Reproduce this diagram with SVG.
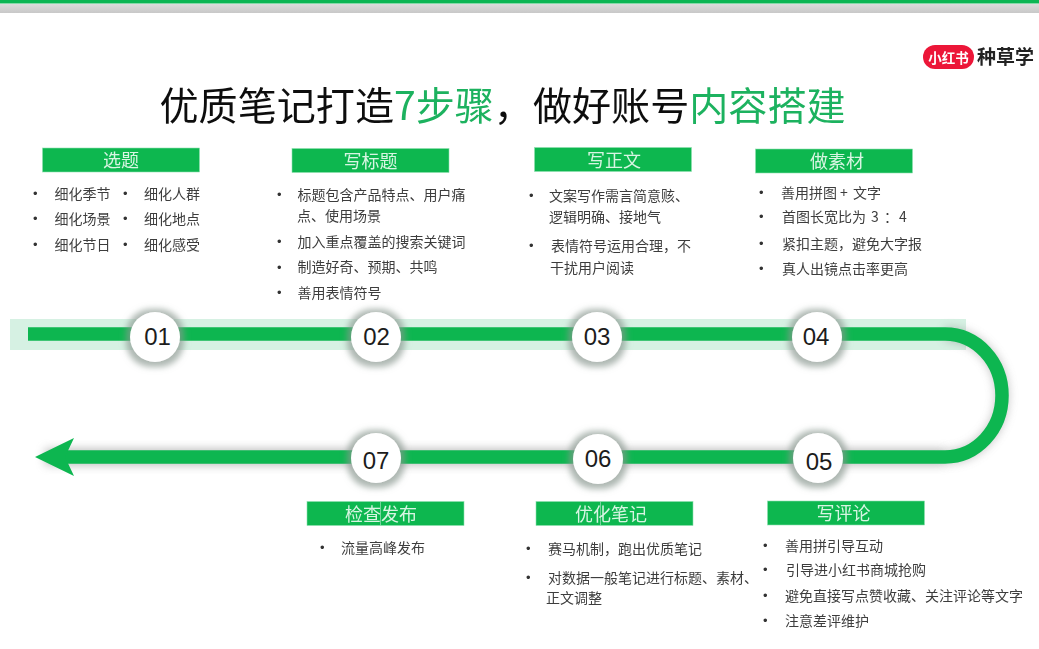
<svg xmlns="http://www.w3.org/2000/svg" width="1039" height="649" viewBox="0 0 1039 649">
<style>
text{font-family:"Liberation Sans","Noto Sans CJK SC",sans-serif}
.cjk{font-family:"Noto Sans CJK SC",sans-serif}
.h{fill:#d8f5e2;font-size:18px;text-anchor:middle;font-family:"Noto Sans CJK SC",sans-serif}
.t{fill:#3d3d3d;font-size:14px;font-family:"Noto Sans CJK SC",sans-serif}
.b{fill:#333;font-size:13px;font-family:"Liberation Sans",sans-serif}
.box{fill:#0cb750;stroke:#8fe0b0;stroke-width:.6}
.n{fill:#1c1c1c;font-size:24px;text-anchor:middle}
.c{fill:#fff}
.track{fill:none;stroke:#0db650;stroke-width:13.5}
.soft{filter:url(#soft)}
.seam{fill:#9fe3bb}
</style>
<defs>
<linearGradient id="top" x1="0" y1="0" x2="0" y2="1"><stop offset="0" stop-color="#dcdcdc"/><stop offset="1" stop-color="#c8c8c8"/></linearGradient>
<filter id="soft" x="-5%" y="-5%" width="110%" height="110%"><feGaussianBlur stdDeviation="0.45"/></filter>
<filter id="halo" x="-50%" y="-50%" width="200%" height="200%">
<feMorphology in="SourceAlpha" operator="dilate" radius="3.500" result="d"/>
<feGaussianBlur in="d" stdDeviation="3" result="b"/>
<feOffset in="b" dy="1" result="o"/>
<feFlood flood-color="#8a9890" flood-opacity=".7"/>
<feComposite in2="o" operator="in" result="s"/>
<feMerge><feMergeNode in="s"/><feMergeNode in="SourceGraphic"/></feMerge>
</filter>
<filter id="lineShadow" filterUnits="userSpaceOnUse" x="0" y="290" width="1039" height="210"><feGaussianBlur stdDeviation="5"/></filter>
</defs>
<rect width="1039" height="649" fill="#fff"/>
<rect y="0" width="1039" height="3.5" fill="#0cb654"/>
<rect y="4" width="1039" height="9" fill="url(#top)"/>

<g id="title" class="soft">
<text x="159.500" y="120" font-size="39.1" fill="#111" class="cjk">优质笔记打造<tspan fill="#1fb25f">7步骤</tspan>，做好账号<tspan fill="#1fb25f">内容搭建</tspan></text>
</g>
<g id="logo" class="soft">
<rect x="923" y="45" width="51" height="24" rx="12" fill="#ec1639"/>
<text x="948.500" y="62.500" font-size="13.500" font-weight="700" fill="#fff" text-anchor="middle" class="cjk">小红书</text>
<text x="977" y="64" font-size="19" font-weight="700" fill="#222" class="cjk">种草学</text>
</g>

<g id="connectors">
<rect x="10" y="319" width="956" height="31" fill="#d6f1e3"/>
<path d="M45 457H945" stroke="#777" stroke-width="16" opacity=".5" filter="url(#lineShadow)" fill="none"/>
<path d="M945 334A57 61.500 0 0 1 945 457" fill="none" stroke="#777" stroke-width="14" opacity=".4" filter="url(#lineShadow)"/>
<path class="track" d="M28 334H945"/>
<path class="track" d="M945 334A57 61.500 0 0 1 945 457"/>
<path class="track" d="M945 457H60"/>
<polygon points="35,457 74,438 65,457 74,476" fill="#0db650"/>
</g>

<g id="n01"><circle class="c" cx="155" cy="337" r="25" filter="url(#halo)"/><text class="n" x="157.500" y="345">01</text></g>
<g id="n02"><circle class="c" cx="376" cy="337" r="25" filter="url(#halo)"/><text class="n" x="376.500" y="345">02</text></g>
<g id="n03"><circle class="c" cx="597" cy="337" r="25" filter="url(#halo)"/><text class="n" x="597" y="345">03</text></g>
<g id="n04"><circle class="c" cx="817" cy="337" r="25" filter="url(#halo)"/><text class="n" x="816" y="345">04</text></g>
<g id="n05"><circle class="c" cx="818" cy="458" r="25" filter="url(#halo)"/><text class="n" x="819" y="470">05</text></g>
<g id="n06"><circle class="c" cx="598" cy="459" r="25" filter="url(#halo)"/><text class="n" x="598" y="467">06</text></g>
<g id="n07"><circle class="c" cx="376" cy="458" r="25" filter="url(#halo)"/><text class="n" x="376" y="469">07</text></g>

<g id="step1" class="soft">
<rect class="box" x="42.500" y="148" width="157" height="24"/><text class="h" x="121" y="167">选题</text>
<text class="b" x="33" y="198">•</text><text class="t" x="54.500" y="199">细化季节</text>
<text class="b" x="123" y="198">•</text><text class="t" x="144" y="199">细化人群</text>
<text class="b" x="33" y="223">•</text><text class="t" x="54.500" y="224">细化场景</text>
<text class="b" x="123" y="223">•</text><text class="t" x="144" y="224">细化地点</text>
<text class="b" x="33" y="249">•</text><text class="t" x="54.500" y="250">细化节日</text>
<text class="b" x="123" y="249">•</text><text class="t" x="144" y="250">细化感受</text>
</g>
<g id="step2" class="soft">
<rect class="box" x="292" y="148.500" width="157" height="24"/><text class="h" x="370.500" y="167.500">写标题</text>
<text class="b" x="277" y="199">•</text><text class="t" x="297.500" y="200">标题包含产品特点、用户痛</text>
<text class="t" x="297" y="221">点、使用场景</text>
<text class="b" x="277" y="246">•</text><text class="t" x="297.500" y="247">加入重点覆盖的搜索关键词</text>
<text class="b" x="277" y="272">•</text><text class="t" x="297.500" y="272">制造好奇、预期、共鸣</text>
<text class="b" x="277" y="297">•</text><text class="t" x="297.500" y="298">善用表情符号</text>
</g>
<g id="step3" class="soft">
<rect class="box" x="534.500" y="147.500" width="157" height="24"/><text class="h" x="614" y="166.500">写正文</text>
<text class="b" x="529" y="200">•</text><text class="t" x="549" y="201">文案写作需言简意赅、</text>
<text class="t" x="549" y="222">逻辑明确、接地气</text>
<text class="b" x="529" y="250">•</text><text class="t" x="551" y="251">表情符号运用合理，不</text>
<text class="t" x="550" y="273">干扰用户阅读</text>
</g>
<g id="step4" class="soft">
<rect class="box" x="755.500" y="149" width="157" height="24"/><text class="h" x="837" y="167.500">做素材</text>
<text class="b" x="759" y="197">•</text><text class="t" x="781" y="198">善用拼图 <tspan x="840">+</tspan> <tspan x="853">文字</tspan></text>
<text class="b" x="759" y="221">•</text><text class="t" x="782" y="222">首图长宽比为 <tspan x="871">3</tspan><tspan x="884">：</tspan><tspan x="899">4</tspan></text>
<text class="b" x="759" y="248">•</text><text class="t" x="782" y="249">紧扣主题，避免大字报</text>
<text class="b" x="759" y="273">•</text><text class="t" x="782" y="274">真人出镜点击率更高</text>
</g>
<g id="step7" class="soft">
<rect class="box" x="307" y="501.500" width="157" height="24"/><rect class="seam" x="380" y="501.500" width=".7" height="24"/><text class="h" x="381" y="520.500">检查发布</text>
<text class="b" x="320" y="552">•</text><text class="t" x="341" y="553">流量高峰发布</text>
</g>
<g id="step6" class="soft">
<rect class="box" x="536" y="501.500" width="157" height="24"/><rect class="seam" x="600" y="501.500" width=".7" height="24"/><text class="h" x="611" y="521">优化笔记</text>
<text class="b" x="526" y="553">•</text><text class="t" x="548" y="554">赛马机制，跑出优质笔记</text>
<text class="b" x="526" y="582">•</text><text class="t" x="548" y="583">对数据一般笔记进行标题、素材、</text>
<text class="t" x="546" y="603">正文调整</text>
</g>
<g id="step5" class="soft">
<rect class="box" x="767.500" y="501" width="157" height="24"/><text class="h" x="843.500" y="520">写评论</text>
<text class="b" x="763" y="550">•</text><text class="t" x="785" y="551">善用拼引导互动</text>
<text class="b" x="763" y="574">•</text><text class="t" x="786" y="575">引导进小红书商城抢购</text>
<text class="b" x="763" y="600">•</text><text class="t" x="785" y="601">避免直接写点赞收藏、关注评论等文字</text>
<text class="b" x="763" y="625">•</text><text class="t" x="785" y="626">注意差评维护</text>
</g>
</svg>
